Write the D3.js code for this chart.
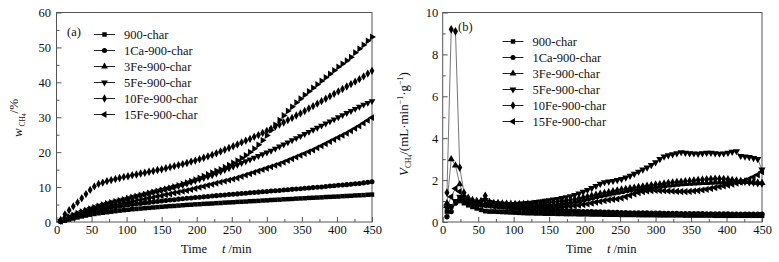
<!DOCTYPE html>
<html><head><meta charset="utf-8">
<script src="https://cdn.jsdelivr.net/npm/d3@7"></script>
<style>
body{margin:0;background:#fff}
svg{display:block}
text{font-family:"Times New Roman","Liberation Serif",serif;fill:#111}
</style>
</head><body>
<svg id="c" width="779" height="262"></svg>
<script>
// ---------- DATA ----------
const timeMin=[6,12,18,24,30,36,42,48,54,60,66,72,78,84,90,96,102,108,114,120,126,132,138,144,150,156,162,168,174,180,186,192,198,204,210,216,222,228,234,240,246,252,258,264,270,276,282,288,294,300,306,312,318,324,330,336,342,348,354,360,366,372,378,384,390,396,402,408,414,420,426,432,438,444,450];
const seriesNames=["900-char","1Ca-900-char","3Fe-900-char","5Fe-900-char","10Fe-900-char","15Fe-900-char"];
const xTicks=[0,50,100,150,200,250,300,350,400,450];
const yTicksA=[0,10,20,30,40,50,60];
const yTicksB=[0,2,4,6,8,10];

// (a) cumulative CH4 yield, %
const wA_900=[0.1,0.4,0.7,1.0,1.3,1.6,1.85,2.1,2.3,2.5,2.65,2.8,2.95,3.1,3.25,3.4,3.5,3.65,3.75,3.85,3.95,4.05,4.15,4.25,4.35,4.45,4.55,4.6,4.7,4.8,4.9,4.95,5.05,5.1,5.2,5.25,5.3,5.4,5.45,5.55,5.6,5.65,5.75,5.8,5.85,5.95,6.0,6.05,6.15,6.2,6.3,6.35,6.4,6.5,6.55,6.6,6.7,6.75,6.8,6.9,6.95,7.0,7.05,7.15,7.2,7.25,7.3,7.4,7.45,7.5,7.6,7.65,7.7,7.8,7.85];
const wA_1Ca=[0.2,0.6,1.0,1.4,1.8,2.2,2.55,2.9,3.2,3.5,3.75,3.95,4.15,4.35,4.5,4.7,4.85,5.0,5.15,5.3,5.45,5.6,5.75,5.9,6.0,6.15,6.3,6.4,6.55,6.65,6.8,6.9,7.0,7.1,7.2,7.3,7.45,7.55,7.65,7.75,7.85,7.95,8.05,8.15,8.25,8.35,8.45,8.55,8.65,8.75,8.85,8.95,9.05,9.15,9.25,9.35,9.45,9.55,9.65,9.75,9.85,9.95,10.05,10.15,10.3,10.4,10.5,10.6,10.7,10.8,10.95,11.05,11.2,11.35,11.5];
const wA_3Fe=[0.3,0.9,1.5,2.0,2.5,3.0,3.4,3.8,4.2,4.6,5.0,5.3,5.6,5.9,6.2,6.5,6.8,7.1,7.4,7.7,8.0,8.3,8.6,8.9,9.2,9.5,9.8,10.1,10.5,10.9,11.3,11.7,12.1,12.6,13.1,13.6,14.1,14.6,15.1,15.7,16.3,16.9,17.6,18.3,19.1,20.0,21.0,22.1,23.4,24.8,26.3,27.8,29.2,30.5,31.8,33.0,34.2,35.3,36.4,37.4,38.4,39.4,40.4,41.4,42.4,43.4,44.4,45.3,46.2,47.2,48.5,49.6,50.7,51.9,53.0];
const wA_5Fe=[0.3,0.9,1.4,1.9,2.4,2.9,3.3,3.7,4.1,4.5,4.9,5.2,5.5,5.8,6.1,6.4,6.7,7.0,7.3,7.6,7.9,8.2,8.5,8.8,9.1,9.4,9.7,10.0,10.3,10.6,11.0,11.4,11.8,12.2,12.6,13.0,13.4,13.9,14.4,14.9,15.4,15.9,16.4,16.9,17.4,17.9,18.4,18.9,19.4,19.9,20.4,21.0,21.6,22.2,22.8,23.4,24.0,24.6,25.2,25.8,26.4,27.0,27.6,28.2,28.8,29.4,30.0,30.6,31.2,31.8,32.4,33.0,33.6,34.1,34.6];
const wA_10Fe=[0.6,2.2,3.4,4.5,5.6,6.8,8.0,9.2,10.2,10.9,11.3,11.7,12.0,12.3,12.6,12.9,13.1,13.4,13.6,13.9,14.1,14.4,14.6,14.9,15.1,15.4,15.7,16.0,16.3,16.6,16.9,17.3,17.6,18.0,18.4,18.8,19.2,19.7,20.2,20.7,21.2,21.7,22.2,22.8,23.3,23.8,24.4,24.9,25.5,26.1,26.7,27.3,27.9,28.5,29.2,29.8,30.5,31.1,31.8,32.5,33.2,33.9,34.6,35.3,36.0,36.7,37.4,38.1,38.8,39.5,40.2,40.9,41.7,42.5,43.3];
const wA_15Fe=[0.2,0.7,1.2,1.6,2.0,2.4,2.8,3.1,3.4,3.7,4.0,4.3,4.5,4.8,5.0,5.3,5.5,5.8,6.0,6.3,6.5,6.8,7.0,7.3,7.5,7.8,8.0,8.3,8.5,8.8,9.0,9.3,9.6,9.9,10.2,10.5,10.8,11.1,11.4,11.7,12.0,12.3,12.6,13.0,13.4,13.8,14.2,14.6,15.0,15.4,15.8,16.2,16.6,17.1,17.6,18.1,18.6,19.1,19.6,20.1,20.6,21.2,21.8,22.4,23.0,23.6,24.2,24.8,25.4,26.1,26.8,27.5,28.3,29.1,29.9];

// (b) CH4 rate, mL/(min g)
const vB_900=[0.5,0.75,0.95,1.0,0.9,0.8,0.72,0.65,0.58,0.52,0.5,0.5,0.49,0.48,0.47,0.46,0.45,0.44,0.43,0.42,0.42,0.41,0.41,0.4,0.4,0.4,0.39,0.39,0.38,0.38,0.38,0.37,0.37,0.37,0.36,0.36,0.36,0.35,0.35,0.35,0.35,0.34,0.34,0.34,0.34,0.33,0.33,0.33,0.33,0.33,0.32,0.32,0.32,0.32,0.32,0.32,0.31,0.31,0.31,0.31,0.31,0.31,0.31,0.3,0.3,0.3,0.3,0.3,0.3,0.3,0.3,0.3,0.3,0.3,0.3];
const vB_1Ca=[0.25,0.5,0.9,1.1,1.2,1.05,0.95,0.88,0.82,0.8,0.78,0.76,0.74,0.72,0.7,0.68,0.66,0.65,0.64,0.63,0.62,0.61,0.6,0.59,0.58,0.57,0.56,0.55,0.54,0.53,0.52,0.51,0.5,0.5,0.49,0.48,0.48,0.47,0.47,0.46,0.46,0.45,0.45,0.44,0.44,0.43,0.43,0.43,0.42,0.42,0.42,0.41,0.41,0.41,0.41,0.4,0.4,0.4,0.4,0.4,0.4,0.39,0.39,0.39,0.39,0.39,0.39,0.38,0.38,0.38,0.38,0.38,0.38,0.38,0.38];
const vB_3Fe=[0.9,3.0,2.7,1.8,1.2,1.0,0.95,0.9,0.88,0.87,0.86,0.85,0.84,0.83,0.82,0.8,0.8,0.8,0.8,0.8,0.8,0.8,0.81,0.82,0.83,0.84,0.86,0.88,0.9,0.93,0.97,1.01,1.05,1.1,1.15,1.2,1.24,1.28,1.32,1.36,1.4,1.44,1.48,1.52,1.55,1.58,1.61,1.64,1.66,1.68,1.7,1.72,1.74,1.76,1.78,1.8,1.82,1.83,1.84,1.85,1.86,1.87,1.88,1.89,1.9,1.9,1.91,1.92,1.93,1.93,1.92,1.91,1.9,1.88,1.86];
const vB_5Fe=[0.7,0.7,1.0,1.2,1.05,0.95,0.9,0.9,0.95,1.05,0.95,0.9,0.88,0.87,0.86,0.86,0.86,0.87,0.88,0.9,0.92,0.95,0.98,1.01,1.04,1.07,1.1,1.14,1.18,1.23,1.29,1.36,1.44,1.53,1.62,1.72,1.82,1.9,1.93,1.96,2.0,2.05,2.12,2.2,2.3,2.4,2.5,2.6,2.72,2.85,3.0,3.12,3.18,3.23,3.28,3.33,3.3,3.28,3.27,3.25,3.28,3.3,3.3,3.28,3.26,3.27,3.3,3.35,3.38,3.15,3.12,3.1,3.05,3.0,2.5];
const vB_10Fe=[1.4,9.2,9.1,2.6,1.4,1.15,1.05,1.0,1.0,1.25,0.95,0.9,0.9,0.88,0.87,0.86,0.85,0.85,0.85,0.86,0.87,0.88,0.9,0.92,0.94,0.96,0.98,1.0,1.02,1.05,1.08,1.12,1.16,1.2,1.25,1.3,1.34,1.38,1.42,1.46,1.5,1.54,1.57,1.6,1.63,1.66,1.69,1.72,1.75,1.78,1.8,1.83,1.86,1.88,1.9,1.92,1.94,1.96,1.98,2.0,2.02,2.04,2.05,2.06,2.06,2.05,2.03,2.0,1.98,1.95,1.93,1.9,1.88,1.86,1.84];
const vB_15Fe=[0.7,1.2,1.6,1.45,1.1,0.95,0.9,0.85,0.82,0.8,0.78,0.76,0.75,0.74,0.73,0.72,0.71,0.7,0.7,0.7,0.7,0.7,0.7,0.7,0.7,0.7,0.71,0.72,0.73,0.75,0.77,0.8,0.83,0.86,0.9,0.94,0.98,1.02,1.05,1.08,1.1,1.14,1.2,1.27,1.34,1.4,1.45,1.48,1.5,1.51,1.5,1.49,1.48,1.47,1.46,1.45,1.45,1.46,1.48,1.5,1.53,1.56,1.6,1.64,1.68,1.72,1.76,1.8,1.85,1.9,1.97,2.05,2.15,2.25,2.4];

// ---------- DRAW ----------
const svg=d3.select("#c");
const FS=12.5;
const shapes={
  square:{t:d3.symbolSquare,r:0},
  circle:{t:d3.symbolCircle,r:0},
  up:{t:d3.symbolTriangle,r:0},
  down:{t:d3.symbolTriangle,r:180},
  left:{t:d3.symbolTriangle,r:-90},
  right:{t:d3.symbolTriangle,r:90},
  diamond:{t:d3.symbolDiamond,r:0}
};
const legendShapes=["square","circle","up","down","diamond","left"];

function panel(cfg){
  const g=svg.append("g");
  const x=d3.scaleLinear().domain([0,450]).range([cfg.x0,cfg.x1]);
  const y=d3.scaleLinear().domain([0,cfg.ymax]).range([cfg.y1,cfg.y0]);
  g.append("rect").attr("x",cfg.x0).attr("y",cfg.y0).attr("width",cfg.x1-cfg.x0).attr("height",cfg.y1-cfg.y0)
    .attr("fill","none").attr("stroke","#555").attr("stroke-width",1);
  const ax=g.append("g").attr("transform",`translate(0,${cfg.y1})`)
    .call(d3.axisBottom(x).tickValues(cfg.xMinor).tickSize(-3).tickFormat(""));
  ax.select(".domain").remove();
  const ay=g.append("g").attr("transform",`translate(${cfg.x0},0)`)
    .call(d3.axisLeft(y).tickValues(cfg.yMinor).tickSize(-3).tickFormat(""));
  ay.select(".domain").remove();
  const bx=g.append("g").attr("transform",`translate(0,${cfg.y1})`)
    .call(d3.axisBottom(x).tickValues(xTicks).tickSize(-5).tickPadding(3.5));
  bx.select(".domain").remove();
  const by=g.append("g").attr("transform",`translate(${cfg.x0},0)`)
    .call(d3.axisLeft(y).tickValues(cfg.yTicks).tickSize(-5).tickPadding(cfg.yPad));
  by.select(".domain").remove();
  g.selectAll(".tick line").attr("stroke","#555");
  g.selectAll(".tick text").attr("font-size",FS).attr("font-family",'"Times New Roman","Liberation Serif",serif').attr("fill","#111");

  const line=d3.line().x((d,i)=>x(timeMin[i])).y(d=>y(d));
  cfg.series.forEach(s=>{
    g.append("path").datum(s.values).attr("d",line).attr("fill","none")
      .attr("stroke","#666").attr("stroke-width",cfg.lw);
    const sh=shapes[s.shape];
    const sym=d3.symbol().type(sh.t).size(cfg.msize);
    g.append("g").selectAll("path").data(s.values).join("path")
      .attr("d",sym)
      .attr("transform",(d,i)=>`translate(${x(timeMin[i])},${y(d)}) rotate(${sh.r})`)
      .attr("fill","#000");
  });

  seriesNames.forEach((n,i)=>{
    const ly=cfg.legY+i*16;
    g.append("line").attr("x1",cfg.legX).attr("x2",cfg.legX+21).attr("y1",ly).attr("y2",ly)
      .attr("stroke","#222").attr("stroke-width",1);
    const sh=shapes[legendShapes[i]];
    g.append("path").attr("d",d3.symbol().type(sh.t).size(20)())
      .attr("transform",`translate(${cfg.legX+10.5},${ly}) rotate(${sh.r})`).attr("fill","#000");
    g.append("text").attr("x",cfg.legX+30).attr("y",ly+4.3).attr("font-size",FS).text(n);
  });
  g.append("text").attr("x",cfg.tagX).attr("y",cfg.tagY).attr("font-size",FS).text(cfg.tag);

  g.append("text").attr("x",cfg.timeX).attr("y",253).attr("font-size",FS).text("Time");
  const tt=g.append("text").attr("x",cfg.timeX+41).attr("y",253).attr("font-size",FS);
  tt.append("tspan").attr("font-style","italic").text("t");
  tt.append("tspan").text(" /min");
  return g;
}

const A=panel({x0:56.5,x1:372,y0:12.5,y1:222,ymax:60,yTicks:yTicksA,yMinor:[5,15,25,35,45,55],
  xMinor:[25,75,125,175,225,275,325,375,425],yPad:5.5,msize:20,lw:0.7,
  series:[{values:wA_900,shape:"square"},{values:wA_1Ca,shape:"circle"},{values:wA_15Fe,shape:"left"},
          {values:wA_5Fe,shape:"down"},{values:wA_10Fe,shape:"diamond"},{values:wA_3Fe,shape:"right"}],
  legX:94,legY:34.5,tag:"(a)",tagX:67,tagY:36,timeX:181});
const B=panel({x0:442.7,x1:762,y0:12.5,y1:222,ymax:10,yTicks:yTicksB,yMinor:[1,3,5,7,9],
  xMinor:[25,75,125,175,225,275,325,375,425],yPad:4.5,msize:22,lw:0.9,
  series:[{values:vB_900,shape:"square"},{values:vB_1Ca,shape:"circle"},{values:vB_15Fe,shape:"left"},
          {values:vB_3Fe,shape:"up"},{values:vB_10Fe,shape:"diamond"},{values:vB_5Fe,shape:"down"}],
  legX:502.5,legY:41.5,tag:"(b)",tagX:458,tagY:31,timeX:566});

const ya=svg.append("text").attr("transform","translate(22,118) rotate(-90)").attr("text-anchor","middle").attr("font-size",13);
ya.append("tspan").attr("font-style","italic").text("w");
ya.append("tspan").attr("font-size",7.5).attr("dy",3).text(" CH");
ya.append("tspan").attr("font-size",5.5).attr("dy",1).text("4");
ya.append("tspan").attr("dy",-8).text("/%");

const yb=svg.append("text").attr("transform","translate(408,124) rotate(-90)").attr("text-anchor","middle").attr("font-size",13);
yb.append("tspan").attr("font-style","italic").text("V");
yb.append("tspan").attr("font-size",7.5).attr("dy",3).text("CH");
yb.append("tspan").attr("font-size",5.5).attr("dy",1).text("4");
yb.append("tspan").attr("dy",-4).text("/(mL·min");
yb.append("tspan").attr("font-size",8).attr("dy",-5).text("−1");
yb.append("tspan").attr("dy",5).text("·g");
yb.append("tspan").attr("font-size",8).attr("dy",-5).text("−1");
yb.append("tspan").attr("dy",5).text(")");
</script>
</body></html>
